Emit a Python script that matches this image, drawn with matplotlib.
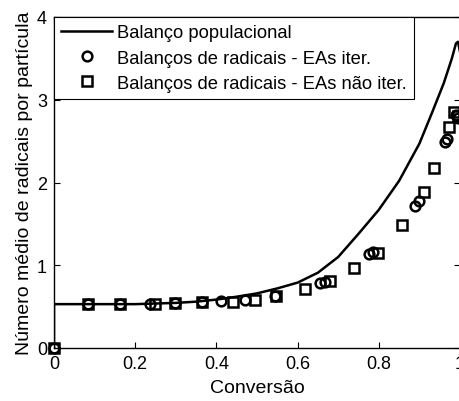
import numpy as np
import matplotlib
matplotlib.use("Agg")
import matplotlib.pyplot as plt

plt.rcParams["font.family"] = ["Liberation Sans", "DejaVu Sans"]

# balanço populacional (curva)
x_pop = [0, 0, 0.1, 0.2, 0.3, 0.35, 0.4, 0.45, 0.5, 0.55, 0.6, 0.65, 0.7, 0.75,
         0.8, 0.85, 0.9, 0.93, 0.96, 0.98, 0.99, 0.995, 1.0]
y_pop = [0, 0.53, 0.53, 0.53, 0.545, 0.56, 0.585, 0.62, 0.66, 0.72, 0.79, 0.91, 1.1, 1.38,
         1.67, 2.02, 2.47, 2.83, 3.2, 3.5, 3.68, 3.7, 3.58]

# EAs iter.
x_iter = [0, 0.083, 0.162, 0.236, 0.298, 0.365, 0.411, 0.47, 0.544, 0.654, 0.667,
          0.777, 0.786, 0.89, 0.899, 0.962, 0.968, 0.99, 0.995]
y_iter = [0, 0.53, 0.53, 0.53, 0.54, 0.56, 0.57, 0.58, 0.63, 0.78, 0.8,
          1.14, 1.16, 1.72, 1.78, 2.49, 2.53, 2.82, 2.78]

# EAs não iter.
x_nao = [0, 0.083, 0.162, 0.248, 0.298, 0.365, 0.441, 0.494, 0.548, 0.617, 0.681,
         0.739, 0.798, 0.857, 0.911, 0.937, 0.974, 0.985, 0.995]
y_nao = [0, 0.53, 0.53, 0.53, 0.54, 0.56, 0.56, 0.58, 0.63, 0.71, 0.81,
         0.97, 1.15, 1.49, 1.88, 2.17, 2.67, 2.85, 2.8]

fig = plt.figure(figsize=(4.6, 4.02), dpi=100)
ax = fig.add_axes([54 / 460, 1 - 349 / 402, 406 / 460, 331 / 402])

ax.plot(x_pop, y_pop, color="black", lw=1.8, label="Balanço populacional")
ax.plot(x_iter, y_iter, "o", ms=7, mfc="none", mec="black", mew=1.8, clip_on=False,
        label="Balanços de radicais - EAs iter.")
ax.plot(x_nao, y_nao, "s", ms=7, mfc="none", mec="black", mew=1.8, clip_on=False,
        label="Balanços de radicais - EAs não iter.")

ax.set_xlim(0, 1)
ax.set_ylim(0, 4)
ax.set_xticks([0, 0.2, 0.4, 0.6, 0.8, 1])
ax.set_xticklabels(["0", "0.2", "0.4", "0.6", "0.8", "1"])
ax.set_yticks([0, 1, 2, 3, 4])
ax.tick_params(direction="in", top=True, right=True, length=4, width=0.8,
               labelsize=13, pad=5)
for s in ax.spines.values():
    s.set_linewidth(1.0)
ax.set_xlabel("Conversão", fontsize=14, labelpad=5)
ax.set_ylabel("Número médio de radicais por partícula", fontsize=14, labelpad=3)

leg = ax.legend(loc="upper left", borderaxespad=0, fancybox=False, fontsize=13.2,
                edgecolor="black", framealpha=1, handlelength=2.75, handletextpad=0.3,
                labelspacing=0.45, borderpad=0.4)
leg.get_frame().set_linewidth(0.8)
leg.set_zorder(5)

fig.savefig("out.png", dpi=100)
